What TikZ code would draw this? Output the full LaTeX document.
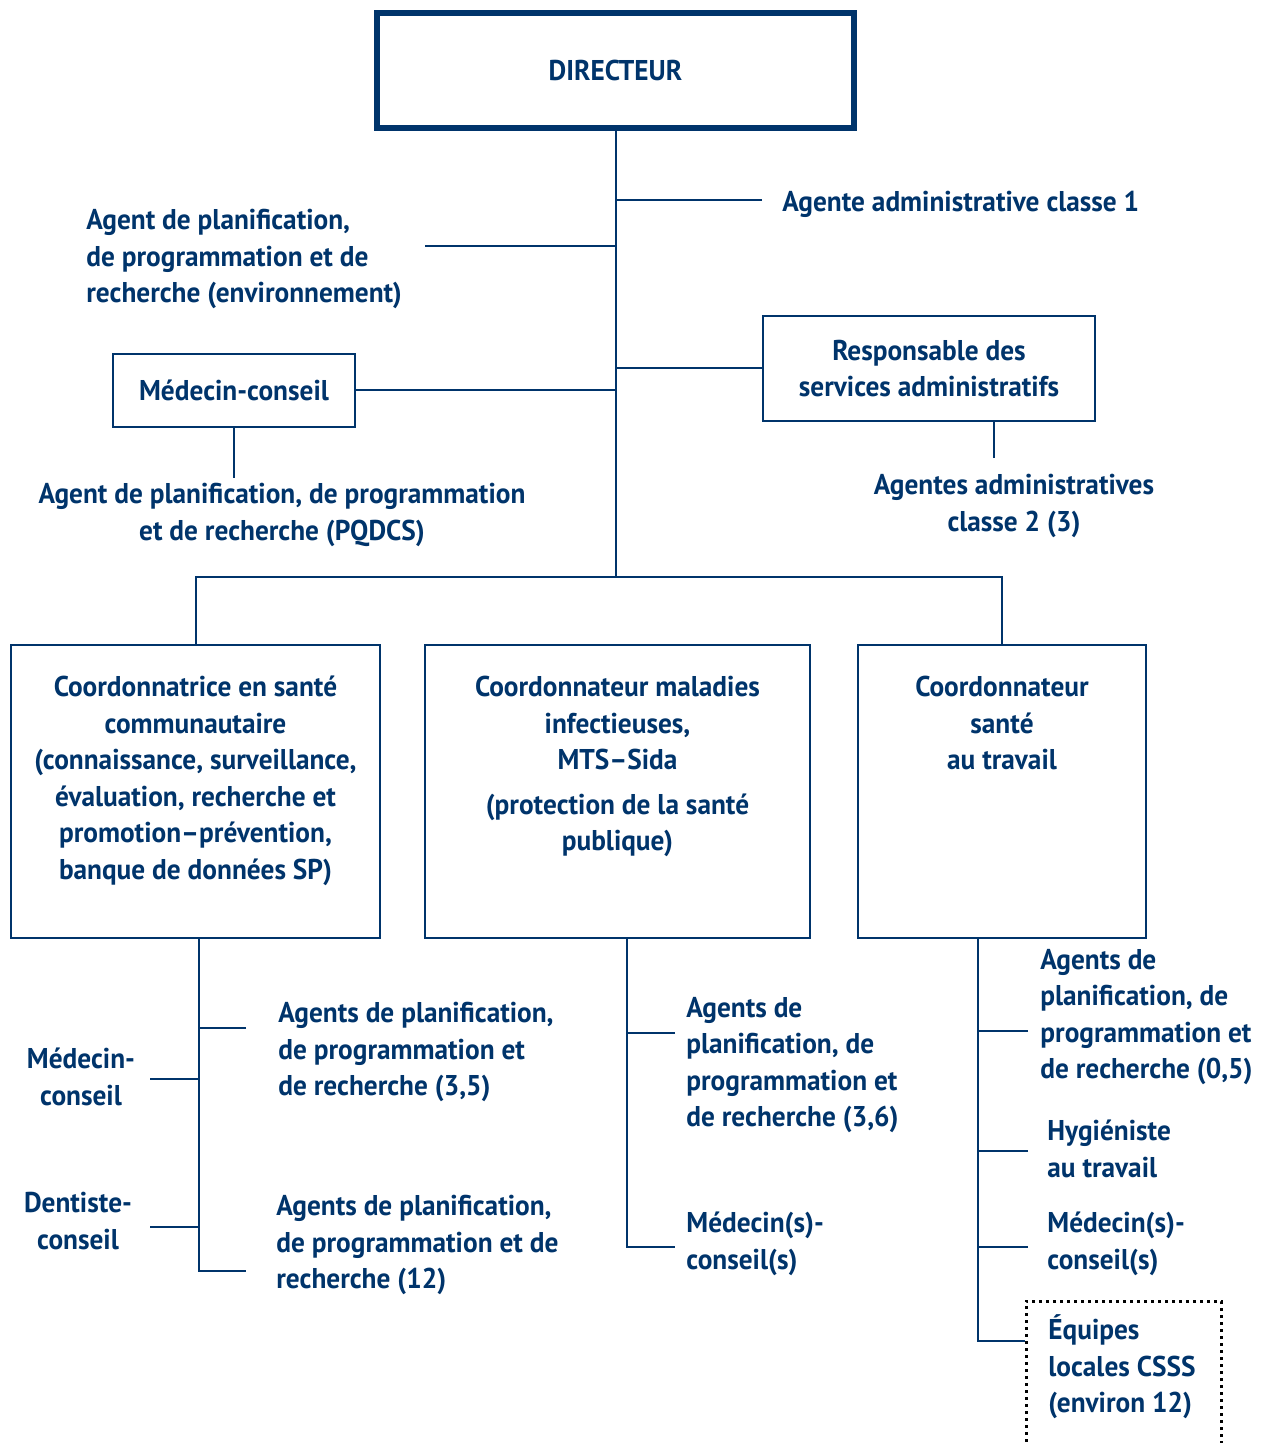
\documentclass[tikz,border=0pt]{standalone}
\usepackage{fontspec}
\setmainfont{PT Sans}[FakeStretch=0.955]
\usetikzlibrary{positioning}
\definecolor{navy}{HTML}{00346B}

\begin{document}
\begin{tikzpicture}[x=0.5pt,y=-0.5pt,
                    every node/.style={text=navy,inner sep=0pt,
                      font=\fontsize{14.3}{18.25}\selectfont\bfseries}]
  \tikzstyle{post}=[draw=navy,line width=1.2pt,align=center]
  \tikzstyle{txt}=[align=left,anchor=west]
  \tikzstyle{ctxt}=[align=center]
  \tikzstyle{link}=[draw=navy,line width=1pt]

  \useasboundingbox (0,0) rectangle (1268,1443);

  % direction
  \node[post,line width=3pt,minimum width=238.5pt,minimum height=57.5pt] (dir) at (615.5,70.5) {DIRECTEUR};
  \node[txt] (aa1) at (782,204) {Agente administrative classe 1};
  \node[txt] (appr) at (86,259) {Agent de planification,\\de programmation et de\\recherche (environnement)};
  \node[post,minimum width=166pt,minimum height=52.5pt] (resp) at (929,368.5) {Responsable des\\services administratifs};
  \node[ctxt] (aa2) at (1014,506) {Agentes administratives\\classe 2 (3)};
  \node[post,minimum width=121pt,minimum height=36.5pt] (medc) at (234,390.5) {Médecin-conseil};
  \node[ctxt] (pqdcs) at (282,515) {Agent de planification, de programmation\\et de recherche (PQDCS)};

  \coordinate (bus) at (615.5,577);
  \coordinate (aa1end) at (762,200);
  \coordinate (apprend) at (425,246);
  \coordinate (aa2end) at (994,458);
  \coordinate (pqend) at (234,478);

  \draw[link] (dir) -- (bus);
  \draw[link] (aa1end) -- (aa1end -| dir.south);
  \draw[link] (apprend) -- (apprend -| dir.south);
  \draw[link] (resp.west) -- (resp.west -| dir.south);
  \draw[link] (medc.east) -- (medc.east -| dir.south);
  \draw[link] (aa2end) -- (aa2end |- resp.south);
  \draw[link] (medc) -- (pqend);

  % coordinations
  \node[post,minimum width=184.5pt,minimum height=146.5pt] (csc) at (195.5,791.5) {};
  \node[post,minimum width=192.5pt,minimum height=146.5pt] (cmi) at (617.5,791.5) {};
  \node[post,minimum width=144pt,minimum height=146.5pt] (cst) at (1002,791.5) {};
  \node[ctxt,below=16pt of csc.north] (csctxt) {Coordonnatrice en santé\\communautaire\\(connaissance, surveillance,\\évaluation, recherche et\\promotion–prévention,\\banque de données SP)};
  \node[ctxt,below=16pt of cmi.north] (cmitxt) {Coordonnateur maladies\\infectieuses,\\MTS–Sida\\[4pt](protection de la santé\\publique)};
  \node[ctxt,below=16pt of cst.north] (csttxt) {Coordonnateur\\santé\\au travail};

  \draw[link] (csc.north) |- (bus) -| (cst.north);

  % santé communautaire
  \coordinate (c1top) at (199,938);
  \coordinate (c1end) at (199,1271);
  \coordinate (c1a) at (246,1028);
  \coordinate (c1b) at (150,1079);
  \coordinate (c1c) at (150,1227);
  \node[txt] (c1atxt) at (278,1052) {Agents de planification,\\de programmation et\\de recherche (3,5)};
  \node[ctxt] (c1btxt) at (81,1077) {Médecin-\\conseil};
  \node[ctxt] (c1ctxt) at (78,1221) {Dentiste-\\conseil};
  \node[txt] (c1dtxt) at (276,1245) {Agents de planification,\\de programmation et de\\recherche (12)};
  \draw[link] (c1top) -- (c1end) -- ++(47,0);
  \draw[link] (c1a) -- (c1a -| c1end);
  \draw[link] (c1b) -- (c1b -| c1end);
  \draw[link] (c1c) -- (c1c -| c1end);

  % maladies infectieuses
  \coordinate (c2top) at (627,938);
  \coordinate (c2end) at (627,1247);
  \coordinate (c2a) at (675,1033);
  \node[txt] (c2atxt) at (686,1065) {Agents de\\planification, de\\programmation et\\de recherche (3,6)};
  \node[txt] (c2btxt) at (686,1244) {Médecin(s)-\\conseil(s)};
  \draw[link] (c2top) -- (c2end) -- ++(48,0);
  \draw[link] (c2a) -- (c2a -| c2end);

  % santé au travail
  \coordinate (c3top) at (978,938);
  \coordinate (c3a) at (1028,1031);
  \coordinate (c3b) at (1028,1151);
  \coordinate (c3c) at (1028,1247);
  \node[txt] (c3atxt) at (1040,1017) {Agents de\\planification, de\\programmation et\\de recherche (0,5)};
  \node[txt] (c3btxt) at (1047,1149) {Hygiéniste\\au travail};
  \node[txt] (c3ctxt) at (1047,1244) {Médecin(s)-\\conseil(s)};
  \node[draw=black,line width=1.5pt,dotted,minimum width=97.5pt,minimum height=89.5pt] (csss) at (1123.5,1390.5) {};
  \node[txt] (cssstxt) at (1048,1367) {Équipes\\locales CSSS\\(environ 12)};
  \draw[link] (c3top) |- (csss.west |- 0,1341);
  \draw[link] (c3a) -- (c3a -| c3top);
  \draw[link] (c3b) -- (c3b -| c3top);
  \draw[link] (c3c) -- (c3c -| c3top);
\end{tikzpicture}
\end{document}
